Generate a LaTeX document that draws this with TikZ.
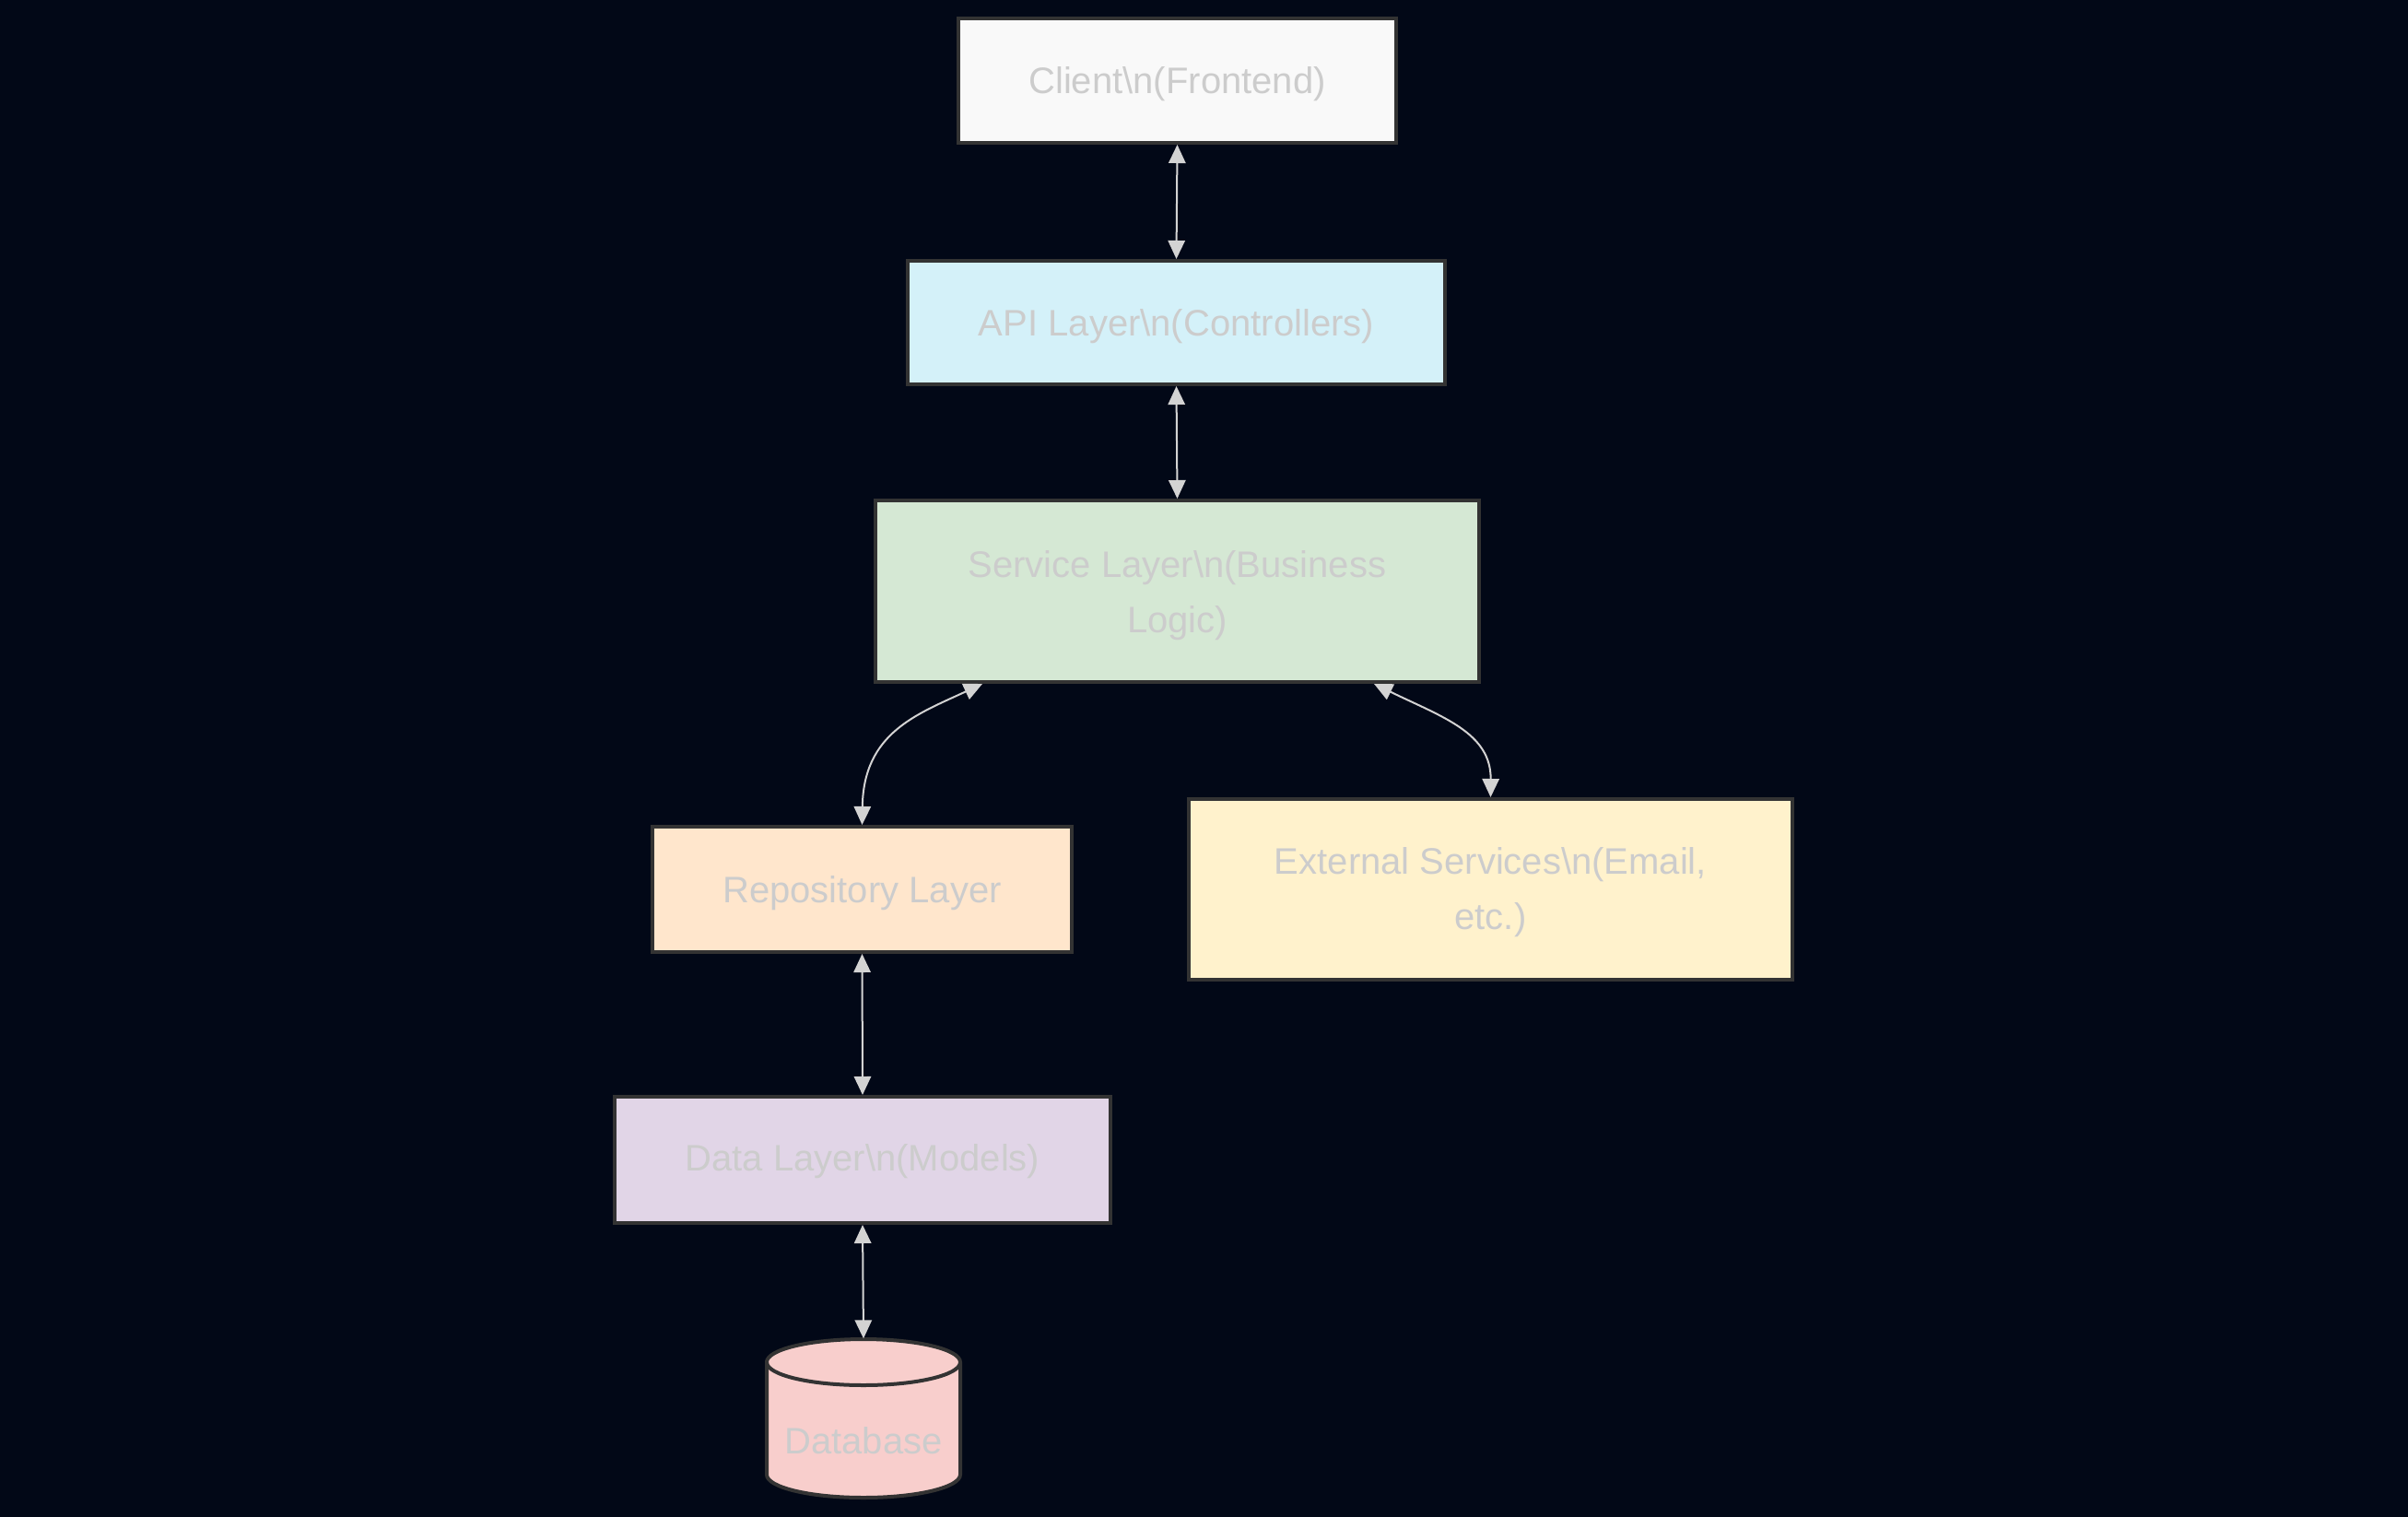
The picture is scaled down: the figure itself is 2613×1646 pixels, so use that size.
\documentclass[tikz,border=0pt]{standalone}
\usepackage{fontspec}
\setmainfont{Liberation Sans}
\usetikzlibrary{arrows.meta,calc}
\definecolor{bg}{HTML}{020817}
\definecolor{bordc}{HTML}{333333}
\definecolor{txtc}{HTML}{CCCCCC}
\definecolor{arrc}{HTML}{D3D3D3}
\definecolor{fclient}{HTML}{F9F9F9}
\definecolor{fapi}{HTML}{D4F1F9}
\definecolor{fsvc}{HTML}{D5E8D4}
\definecolor{frepo}{HTML}{FFE6CC}
\definecolor{fext}{HTML}{FFF2CC}
\definecolor{fdata}{HTML}{E1D5E7}
\definecolor{fdb}{HTML}{F8CECC}
\begin{document}
\begin{tikzpicture}[x=0.3pt,y=-0.3pt,
  box/.style={draw=bordc,line width=1.2pt,rectangle,inner sep=0pt},
  lbl/.style={text=txtc,align=center,font=\fontsize{12pt}{18pt}\selectfont,inner sep=0pt},
  link/.style={draw=arrc,line width=0.6pt,{Triangle[length=6pt,width=5.5pt]}-{Triangle[length=6pt,width=5.5pt]}}]
\useasboundingbox (0,0) rectangle (2613,1646);
\fill[bg] (0,0) rectangle (2613,1646);

\node[box,fill=fclient,minimum width=142.5pt,minimum height=40.5pt] (client) at (1277.5,87.5) {};
\node[lbl] (clientl) at ($(client.center)+(0,4)$) {Client\textbackslash n(Frontend)};
\node[box,fill=fapi,minimum width=174.9pt,minimum height=40.2pt] (api) at (1276.5,350) {};
\node[lbl] (apil) at ($(api.center)+(0,4)$) {API Layer\textbackslash n(Controllers)};
\node[box,fill=fsvc,minimum width=196.5pt,minimum height=59.1pt] (svc) at (1277.5,641.5) {};
\node[lbl] (svcl) at ($(svc.center)+(0,5)$) {Service Layer\textbackslash n(Business\\Logic)};
\node[box,fill=frepo,minimum width=136.5pt,minimum height=40.8pt] (repo) at (935.5,965) {};
\node[lbl] (repol) at ($(repo.center)+(0,4)$) {Repository Layer};
\node[box,fill=fext,minimum width=196.5pt,minimum height=58.8pt] (ext) at (1617.5,965) {};
\node[lbl] (extl) at ($(ext.center)+(0,3)$) {External Services\textbackslash n(Email,\\etc.)};
\node[box,fill=fdata,minimum width=161.4pt,minimum height=41.1pt] (data) at (936,1258.5) {};
\node[lbl] (datal) at ($(data.center)+(0,2)$) {Data Layer\textbackslash n(Models)};

% database cylinder
\node[inner sep=0pt,minimum width=63pt,minimum height=51.6pt] (db) at (937,1539) {};
\filldraw[fill=fdb,draw=bordc,line width=1.2pt]
  (832,1478) -- (832,1600) arc (180:360:31.5pt and 7.5pt) -- (1042,1478) arc (0:180:31.5pt and 7.5pt) -- cycle;
\draw[bordc,line width=1.2pt] (832,1478) arc (180:360:31.5pt and 7.5pt);
\node[lbl] (dbl) at (937,1563) {Database};

\draw[link] (client.south) -- (api.north);
\draw[link] (api.south) -- (svc.north);
\draw[link] ($(svc.south west)+(118,0)$) .. controls (995,775) and (937,795) .. (repo.north);
\draw[link] ($(svc.south west)+(543,0)$) .. controls (1565,778) and (1618,795) .. (ext.north);
\draw[link] (repo.south) -- (data.north);
\draw[link] (data.south) -- (db.north);
\end{tikzpicture}
\end{document}
